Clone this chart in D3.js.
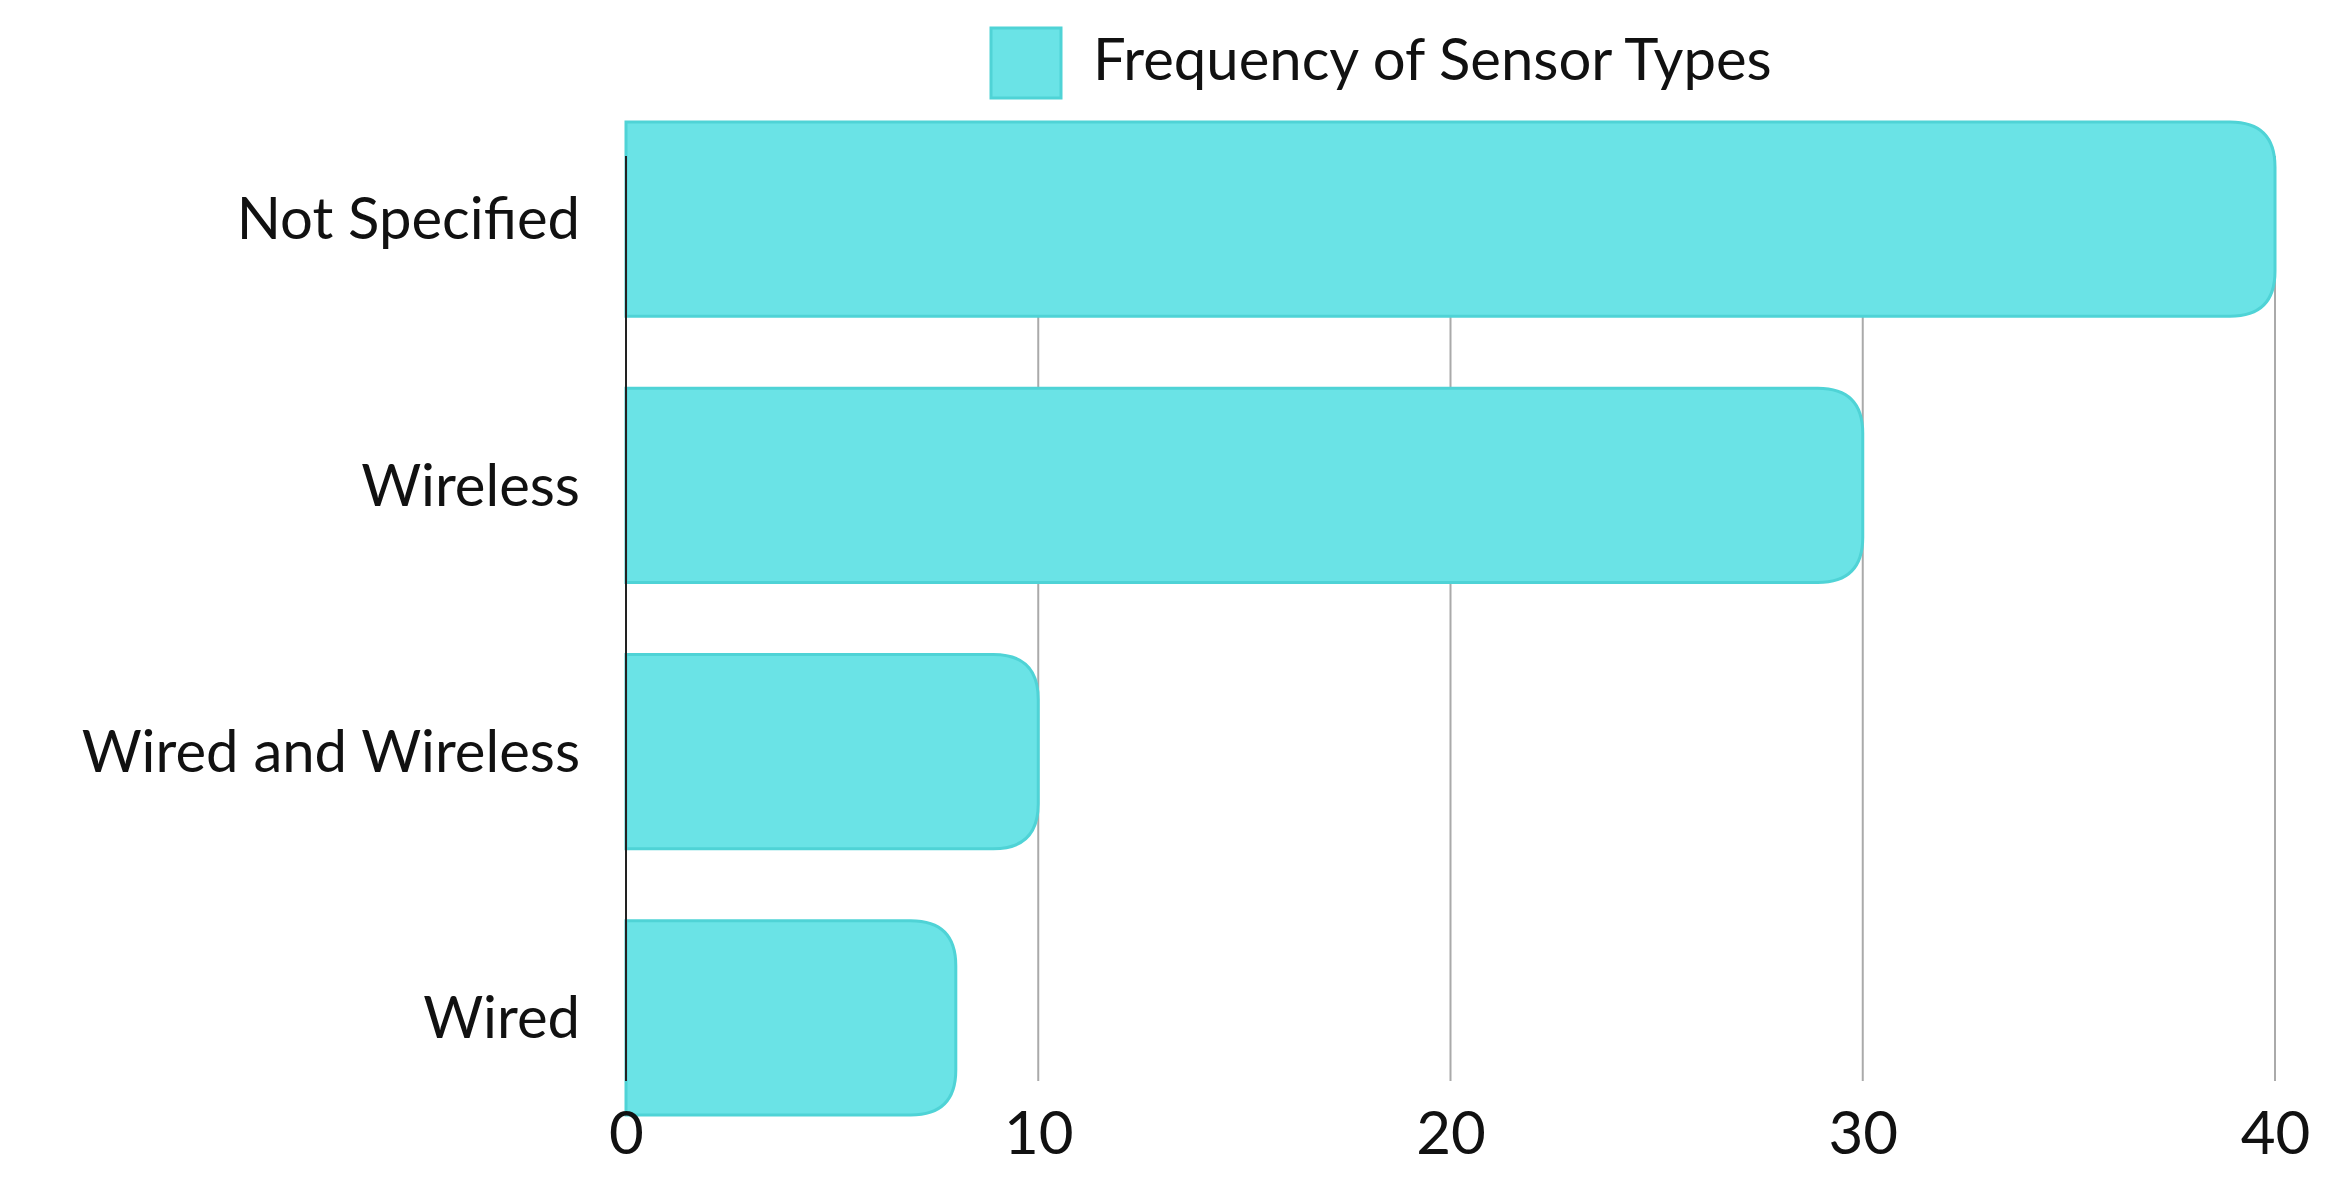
<!DOCTYPE html>
<html>
<head>
<meta charset="utf-8">
<script src="https://cdn.jsdelivr.net/npm/d3@7"></script>
<style>
  body { margin: 0; background: #fff; }
  text { font-family: Lato, "Open Sans", sans-serif; fill: #111; }
</style>
</head>
<body>
<svg id="chart" width="2331" height="1180"></svg>
<script>
const categories = ["Not Specified", "Wireless", "Wired and Wireless", "Wired"];
const values = [40, 30, 10, 8];
const ticks = [0, 10, 20, 30, 40];
const seriesName = "Frequency of Sensor Types";

const svg = d3.select("#chart");
const plotLeft = 626, plotRight = 2275, plotTop = 156, plotBottom = 1081;

const x = d3.scaleLinear().domain([0, 40]).range([plotLeft, plotRight]);
const y = d3.scaleBand().domain(categories).range([plotTop - 34, plotBottom + 34]).paddingInner(0.27).paddingOuter(0);

// gridlines
svg.selectAll(".grid")
  .data(ticks.slice(1))
  .enter()
  .append("line")
  .attr("x1", d => x(d)).attr("x2", d => x(d))
  .attr("y1", plotTop).attr("y2", plotBottom)
  .attr("stroke", "#aaa").attr("stroke-width", 2);

// bars: rounded on the right end
const r = 45;
svg.selectAll(".bar")
  .data(values)
  .enter()
  .append("path")
  .attr("d", (d, i) => {
    let x0 = x(0), x1 = x(d), y0 = y(categories[i]), h = y.bandwidth();
    return `M${x0},${y0} H${x1 - r} Q${x1},${y0} ${x1},${y0 + r} V${y0 + h - r} Q${x1},${y0 + h} ${x1 - r},${y0 + h} H${x0} Z`;
  })
  .attr("fill", "#6ae3e6")
  .attr("stroke", "#4fd3d6")
  .attr("stroke-width", 3);

// left axis line
svg.append("line")
  .attr("x1", plotLeft).attr("x2", plotLeft)
  .attr("y1", plotTop).attr("y2", plotBottom)
  .attr("stroke", "#222").attr("stroke-width", 2);

// category labels
svg.selectAll(".cat")
  .data(categories)
  .enter()
  .append("text")
  .attr("x", 580)
  .attr("y", d => y(d) + y.bandwidth() / 2)
  .attr("dy", "0.35em")
  .attr("text-anchor", "end")
  .style("font-size", "58px")
  .text(d => d);

// x tick labels
const xAxis = svg.append("g")
  .attr("transform", `translate(0,${plotBottom})`)
  .call(d3.axisBottom(x).tickValues(ticks).tickSize(0).tickPadding(30));
xAxis.select(".domain").remove();
xAxis.selectAll("text").style("font-size", "60px").style("font-family", "Lato, sans-serif").attr("fill", "#111");

// legend
svg.append("rect")
  .attr("x", 991).attr("y", 28).attr("width", 70).attr("height", 70)
  .attr("fill", "#6ae3e6").attr("stroke", "#4fd3d6").attr("stroke-width", 3);
svg.append("text")
  .attr("x", 1093).attr("y", 60)
  .attr("dy", "0.35em")
  .style("font-size", "58px")
  .text(seriesName);
</script>
</body>
</html>
